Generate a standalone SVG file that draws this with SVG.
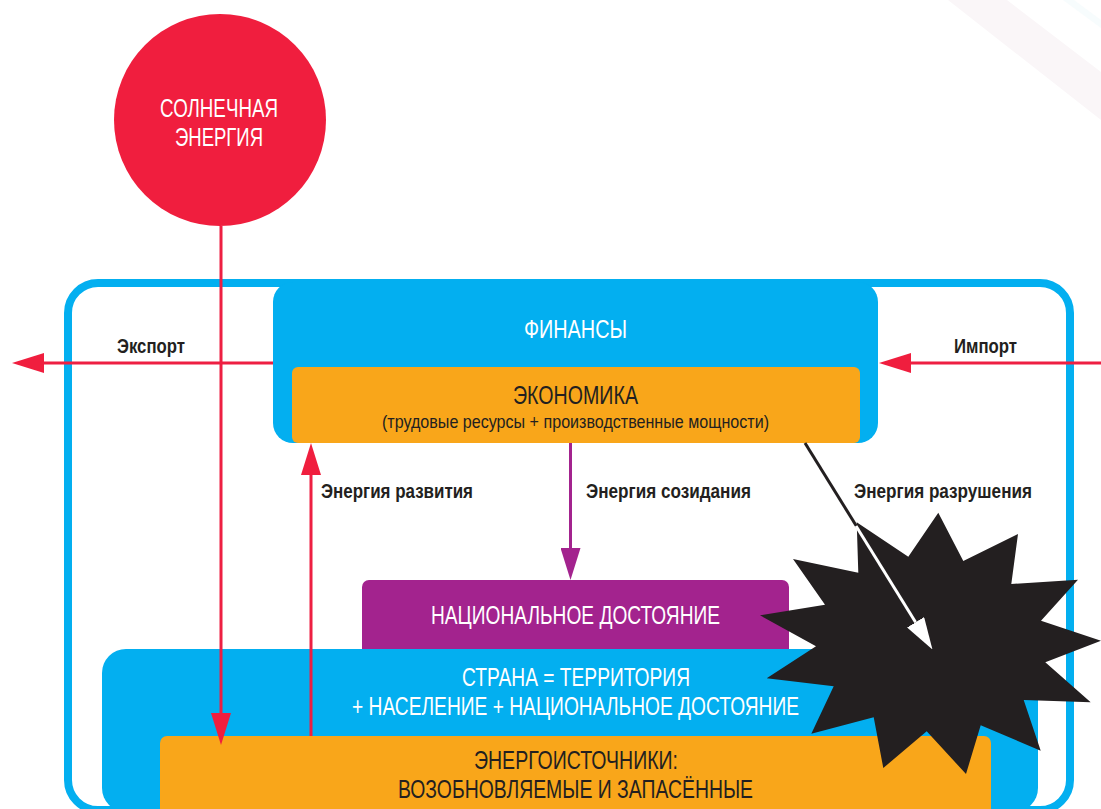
<svg xmlns="http://www.w3.org/2000/svg" width="1101" height="809" viewBox="0 0 1101 809">
<defs>
<style>
text{font-family:"Liberation Sans",Arial,sans-serif;text-anchor:start}
.t{font-size:25px;fill:#fff}
.d{font-size:25px;fill:#231f20}
.s{font-size:18.500px;fill:#231f20}
.b{font-size:20px;font-weight:bold;fill:#231f20}
.blue{fill:#03aff0}
.org{fill:#f9a61a}
.ln{fill:none;stroke-width:3}
.red{stroke:#ee1f42}
</style>
<marker id="hr" markerUnits="userSpaceOnUse" viewBox="0 -10 32 20" markerWidth="32" markerHeight="20" refX="0" refY="0" orient="auto"><path d="M0-10L32 0L0 10z" fill="#f01e3e"/></marker>
<marker id="hp" markerUnits="userSpaceOnUse" viewBox="0 -10 32 20" markerWidth="32" markerHeight="20" refX="0" refY="0" orient="auto"><path d="M0-10L32 0L0 10z" fill="#a3238e"/></marker>
<marker id="hw" markerUnits="userSpaceOnUse" viewBox="0 -10 32 20" markerWidth="32" markerHeight="20" refX="0" refY="0" orient="auto"><path d="M0-10L32 0L0 10z" fill="#fff"/></marker>
</defs>
<rect width="1101" height="809" fill="#fff"/>
<polygon points="948,0 1007,0 1101,72 1101,120" fill="#faf6f8"/>
<polygon points="1063,0 1074,0 1101,20 1101,28" fill="#f7fcfd"/>
<g id="frame"><rect x="68" y="283" width="1002" height="527" rx="30" fill="none" stroke="#03aff0" stroke-width="8"/></g>
<g id="sun"><circle cx="220" cy="120" r="106" fill="#f01e3e"/>
<text class="t" x="160" y="117" textLength="118" lengthAdjust="spacingAndGlyphs">СОЛНЕЧНАЯ</text>
<text class="t" x="175" y="146" textLength="88" lengthAdjust="spacingAndGlyphs">ЭНЕРГИЯ</text></g>
<g id="finance"><rect class="blue" x="273" y="282" width="605" height="161" rx="20"/>
<text class="t" x="524" y="338" textLength="103" lengthAdjust="spacingAndGlyphs">ФИНАНСЫ</text></g>
<g id="economy"><rect class="org" x="292" y="367" width="568" height="76" rx="6"/>
<text class="d" x="513" y="404" textLength="125" lengthAdjust="spacingAndGlyphs">ЭКОНОМИКА</text>
<text class="s" x="382" y="428" textLength="387" lengthAdjust="spacingAndGlyphs">(трудовые ресурсы + производственные мощности)</text></g>
<g id="heritage"><rect x="362" y="580" width="427" height="80" rx="7" fill="#a3238e"/>
<text class="t" x="431" y="624" textLength="289" lengthAdjust="spacingAndGlyphs">НАЦИОНАЛЬНОЕ ДОСТОЯНИЕ</text></g>
<g id="country"><rect class="blue" x="102" y="649" width="936" height="163" rx="24"/>
<text class="t" x="462" y="686" textLength="228" lengthAdjust="spacingAndGlyphs">СТРАНА = ТЕРРИТОРИЯ</text>
<text class="t" x="352" y="715" textLength="447" lengthAdjust="spacingAndGlyphs">+ НАСЕЛЕНИЕ + НАЦИОНАЛЬНОЕ ДОСТОЯНИЕ</text></g>
<g id="sources"><rect class="org" x="160" y="736" width="831" height="85" rx="7"/>
<text class="d" x="474" y="769" textLength="204" lengthAdjust="spacingAndGlyphs">ЭНЕРГОИСТОЧНИКИ:</text>
<text class="d" x="398" y="798" textLength="355" lengthAdjust="spacingAndGlyphs">ВОЗОБНОВЛЯЕМЫЕ И ЗАПАСЁННЫЕ</text></g>
<g id="destruction"><polygon fill="#231f20" points="856.7,522.3 908.3,556.7 938.3,512.7 963.3,561 1018,534 1011.3,584 1078,579.7 1041,620.7 1101,640.7 1045.3,662.3 1090.7,702.3 1023.7,700 1040.7,750.7 980.7,725.3 966,774 926.7,731.3 883.3,768 873.7,717.3 811.3,733.7 833.7,686.3 766.7,678.3 816,646.3 760,615.3 825,604.7 793,559 858.3,572.7"/></g>
<g id="connectors">
<line class="ln red" x1="221" y1="226" x2="221" y2="713" marker-end="url(#hr)"/>
<line class="ln red" x1="273" y1="363" x2="44" y2="363" marker-end="url(#hr)"/>
<line class="ln red" x1="1101" y1="363" x2="911" y2="363" marker-end="url(#hr)"/>
<line class="ln red" x1="311" y1="736" x2="311" y2="475" marker-end="url(#hr)"/>
<line class="ln" stroke="#a3238e" x1="570.500" y1="443" x2="570.500" y2="548" marker-end="url(#hp)"/>
<line class="ln" stroke="#231f20" x1="805" y1="443" x2="857" y2="527"/>
<line class="ln" stroke="#fff" x1="856" y1="526" x2="915.600" y2="622.300" marker-end="url(#hw)"/>
<text class="b" x="117" y="353" textLength="68" lengthAdjust="spacingAndGlyphs">Экспорт</text>
<text class="b" x="954" y="353" textLength="63" lengthAdjust="spacingAndGlyphs">Импорт</text>
<text class="b" x="321" y="497.500" textLength="152" lengthAdjust="spacingAndGlyphs">Энергия развития</text>
<text class="b" x="586" y="497.500" textLength="165" lengthAdjust="spacingAndGlyphs">Энергия созидания</text>
<text class="b" x="854" y="497.500" textLength="178" lengthAdjust="spacingAndGlyphs">Энергия разрушения</text>
</g>
</svg>
